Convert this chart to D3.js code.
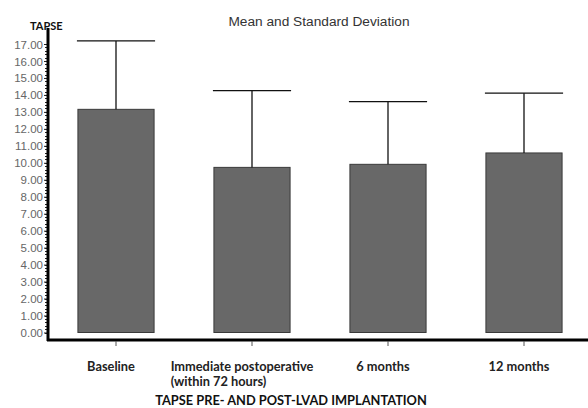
<!DOCTYPE html>
<html><head><meta charset="utf-8">
<script src="https://cdn.jsdelivr.net/npm/d3@7"></script>
<style>body{margin:0;background:#fff}svg{display:block}</style>
</head><body>
<svg id="c" width="588" height="408"></svg>
<script>
const categories = ["Baseline", "Immediate postoperative|(within 72 hours)", "6 months", "12 months"];
const means = [13.15, 9.73, 9.91, 10.58];
const sdUpper = [17.18, 14.25, 13.60, 14.10];
const yTicks = [0,1,2,3,4,5,6,7,8,9,10,11,12,13,14,15,16,17];
const chartTitle = "Mean and Standard Deviation";
const yTitle = "TAPSE";
const xTitle = "TAPSE PRE- AND POST-LVAD IMPLANTATION";

const svg = d3.select("#c");
const x = d3.scaleBand().domain(categories).range([48, 592]).paddingInner(0.44).paddingOuter(0.22);
const y = d3.scaleLinear().domain([0, 17]).range([332.5, 44]);

// title
svg.append("text").attr("x", 319).attr("y", 26).attr("text-anchor", "middle")
  .attr("font-family", "Liberation Sans, Arial, sans-serif").attr("font-size", 13.7).attr("fill", "#333")
  .text(chartTitle);

// bars
svg.append("g").selectAll("rect").data(means).join("rect")
  .attr("x", (d, i) => x(categories[i]))
  .attr("y", d => y(d))
  .attr("width", x.bandwidth())
  .attr("height", d => y(0) - y(d))
  .attr("fill", "#686868").attr("stroke", "#3a3a3a").attr("stroke-width", 1);

// error bars
const eg = svg.append("g").attr("stroke", "#111").attr("stroke-width", 1.3);
sdUpper.forEach((v, i) => {
  const cx = x(categories[i]) + x.bandwidth() / 2;
  eg.append("line").attr("x1", cx).attr("x2", cx).attr("y1", y(means[i])).attr("y2", y(v));
  eg.append("line").attr("x1", x(categories[i]) - 1).attr("x2", x(categories[i]) + x.bandwidth() + 1)
    .attr("y1", y(v)).attr("y2", y(v));
});

// y axis minor ticks
const minor = d3.range(0, 17.01, 0.2);
svg.append("g").selectAll("line").data(minor).join("line")
  .attr("x1", 45).attr("x2", 48).attr("y1", d => Math.round(y(d)) + 0.5).attr("y2", d => Math.round(y(d)) + 0.5)
  .attr("stroke", "#222").attr("stroke-width", 1);

// y axis
const yAxis = d3.axisLeft(y).tickValues(yTicks).tickFormat(d3.format(".2f")).tickSize(4).tickPadding(1);
const ga = svg.append("g").attr("transform", "translate(48,0)").call(yAxis);
ga.select(".domain").remove();
ga.selectAll(".tick line").attr("stroke", "#222");
ga.selectAll(".tick text").attr("font-family", "Liberation Sans, Arial, sans-serif").attr("font-size", 11.5)
  .attr("fill", "#666").attr("dy", "0.35em");

// axis lines
svg.append("line").attr("x1", 48).attr("x2", 48).attr("y1", 28).attr("y2", 341)
  .attr("stroke", "#000").attr("stroke-width", 3);
svg.append("line").attr("x1", 47).attr("x2", 588).attr("y1", 340).attr("y2", 340)
  .attr("stroke", "#000").attr("stroke-width", 3);

// x axis ticks + labels
const xAxis = d3.axisBottom(x).tickSize(5).tickFormat("");
const gx = svg.append("g").attr("transform", "translate(0,341)").call(xAxis);
gx.select(".domain").remove();
gx.selectAll(".tick line").attr("stroke", "#555");

const lab = svg.append("g").attr("font-family", "Lato, sans-serif").attr("font-weight", "bold")
  .attr("font-size", 12.8).attr("fill", "#222");
categories.forEach((c, i) => {
  const cx = x(c) + x.bandwidth() / 2;
  const lines = c.split("|");
  if (lines.length === 1) {
    lab.append("text").attr("x", cx - 5).attr("y", 371).attr("text-anchor", "middle").text(lines[0]);
  } else {
    const t = lab.append("text").attr("x", cx - 10).attr("y", 371).attr("text-anchor", "middle").text(lines[0]);
    const w = t.node().getComputedTextLength();
    lab.append("text").attr("x", cx - 10 - w / 2).attr("y", 386).text(lines[1]);
  }
});

// axis titles
svg.append("text").attr("x", 30).attr("y", 30).attr("font-family", "Lato, sans-serif").attr("font-weight", "bold")
  .attr("font-size", 11).attr("fill", "#111").text(yTitle);
svg.append("text").attr("x", 291).attr("y", 405).attr("text-anchor", "middle")
  .attr("font-family", "Lato, sans-serif").attr("font-weight", "bold").attr("font-size", 12.8).attr("fill", "#111")
  .text(xTitle);
</script>
</body></html>
